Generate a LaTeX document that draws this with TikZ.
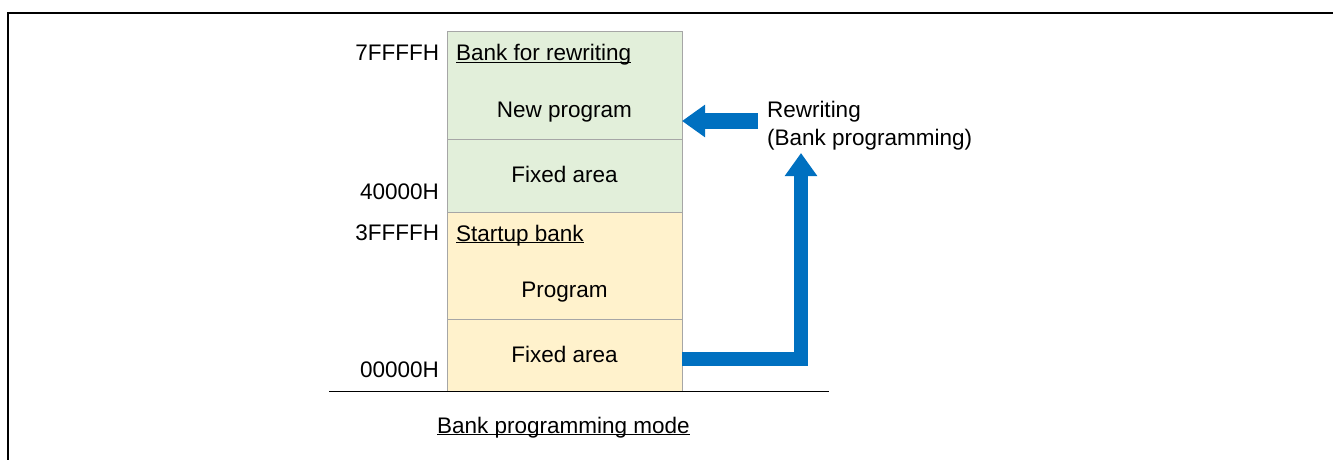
\documentclass[tikz,border=0pt]{standalone}
\usepackage{fontspec}
\setmainfont{Liberation Sans}
\usetikzlibrary{arrows.meta}
\definecolor{bankgreen}{HTML}{E2EFDA}
\definecolor{bankyellow}{HTML}{FFF2CC}
\definecolor{cellline}{HTML}{A6A6A6}
\definecolor{flowblue}{HTML}{0070C0}

% underline set close to the baseline
\newcommand\ulined[1]{\setbox0\hbox{#1}\rlap{\rule[-2.4pt]{\wd0}{1.4pt}}\box0}

\begin{document}
\begin{tikzpicture}[x=1pt,y=-1pt,
  every node/.style={font=\fontsize{22.5}{27}\selectfont, inner sep=0pt, outer sep=0pt},
  cell/.style={draw=cellline, line width=1pt, anchor=north west, minimum width=235pt},
  addr/.style={anchor=base east},
  banktitle/.style={anchor=base west},
  body/.style={anchor=base},
  bigarrow/.style={draw=flowblue, line join=miter, -{Triangle[length=23pt,width=31pt]}}
]
\useasboundingbox (0,0) rectangle (1333,460);

% outer frame (open at right and bottom)
\draw[line width=2pt] (8,460) -- (8,13) -- (1333,13);

% memory map cells
\node[cell, fill=bankgreen,  minimum height=107pt] (newprog) at (447,32)  {};
\node[cell, fill=bankgreen,  minimum height=73pt]  (fixedhi) at (447,139) {};
\node[cell, fill=bankyellow, minimum height=107pt] (prog)    at (447,212) {};
\node[cell, fill=bankyellow, minimum height=72pt]  (fixedlo) at (447,319) {};

% base line under the map
\coordinate (baseL) at (329,391);
\coordinate (baseR) at (829,391);
\draw[line width=1pt] (baseL) -- (baseR);

% addresses
\node[addr] (a7) at (439,61)  {7FFFFH};
\node[addr] (a4) at (439,199) {40000H};
\node[addr] (a3) at (439,240) {3FFFFH};
\node[addr] (a0) at (439,377) {00000H};

% cell texts
\node[banktitle] (tnew) at (456,61)  {\ulined{Bank for rewriting}};
\node[body] (lnew)  at (564.5,117) {New program};
\node[body] (lfhi)  at (564.5,182) {Fixed area};
\node[banktitle] (tst) at (456,241) {\ulined{Startup bank}};
\node[body] (lprog) at (564.5,297) {Program};
\node[body] (lflo)  at (564.5,362) {Fixed area};

% mode caption
\node[banktitle] (mode) at (437,433) {\ulined{Bank programming mode}};

% rewriting note
\node[banktitle] (rw1) at (767,117) {Rewriting};
\node[banktitle] (rw2) at (767,145) {(Bank programming)};

% flow arrows
\coordinate (rwsrc) at (758,121);
\draw[bigarrow, line width=16pt] (rwsrc) -- (rwsrc -| newprog.east);
\coordinate (bend) at (801,359);
\coordinate (uptip) at (801,153);
\draw[bigarrow, line width=14pt] (fixedlo.east |- bend) -- (bend) -- (uptip);
\end{tikzpicture}
\end{document}
